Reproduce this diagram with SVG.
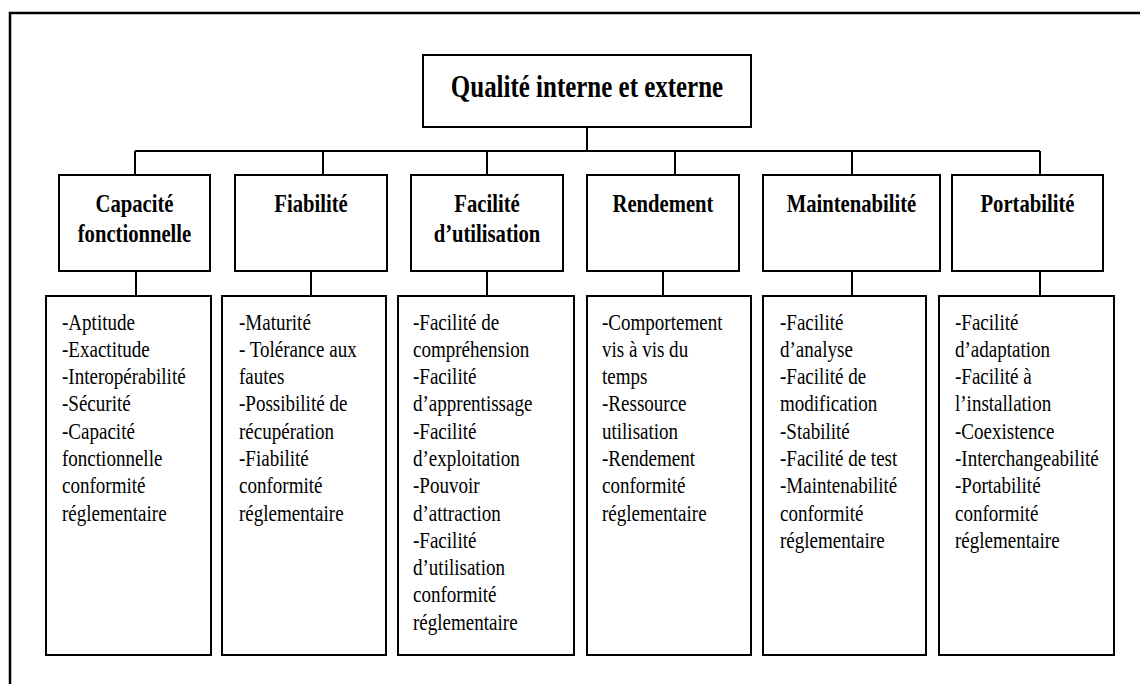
<svg xmlns="http://www.w3.org/2000/svg" width="1140" height="684" viewBox="0 0 1140 684">
<style>
.frame{fill:none;stroke:#000;stroke-width:2.5}
.box{fill:#fff;stroke:#000;stroke-width:2}
.con{fill:none;stroke:#000;stroke-width:2}
.title{font-family:"Liberation Serif","Times New Roman",serif;font-weight:bold;font-size:32px;fill:#000}
.cat{font-family:"Liberation Serif","Times New Roman",serif;font-weight:bold;font-size:25.5px;fill:#000}
.body{font-family:"Liberation Serif","Times New Roman",serif;font-size:23.5px;fill:#000}
</style>
<rect width="1140" height="684" fill="#fff"/>
<rect class="frame" x="10" y="13" width="1150" height="700"/>
<g id="connectors">
<path class="con" d="M587 127V151M135 151H1040M135 151V175M323 151V175M487 151V175M675 151V175M852 151V175M1040 151V175"/>
<path class="con" d="M136 271V296M311 271V296M487 271V296M663 271V296M852 271V296M1040 271V296"/>
</g>
<g id="root">
<rect class="box" x="423" y="55" width="328" height="72"/>
<text class="title" text-anchor="middle" transform="translate(587,97) scale(0.78,1)">Qualité interne et externe</text>
</g>
<g id="cat-capacite">
<rect class="box" x="59" y="175" width="151" height="96"/>
<text class="cat" text-anchor="middle" transform="translate(134.5,212) scale(0.81,1)"><tspan x="0">Capacité</tspan><tspan x="0" dy="30">fonctionnelle</tspan></text>
</g>
<g id="cat-fiabilite">
<rect class="box" x="235" y="175" width="152" height="96"/>
<text class="cat" text-anchor="middle" transform="translate(311,212) scale(0.81,1)">Fiabilité</text>
</g>
<g id="cat-facilite">
<rect class="box" x="411" y="175" width="152" height="96"/>
<text class="cat" text-anchor="middle" transform="translate(487,212) scale(0.81,1)"><tspan x="0">Facilité</tspan><tspan x="0" dy="30">d’utilisation</tspan></text>
</g>
<g id="cat-rendement">
<rect class="box" x="587" y="175" width="152" height="96"/>
<text class="cat" text-anchor="middle" transform="translate(663,212) scale(0.81,1)">Rendement</text>
</g>
<g id="cat-maintenabilite">
<rect class="box" x="763" y="175" width="177" height="96"/>
<text class="cat" text-anchor="middle" transform="translate(851.5,212) scale(0.81,1)">Maintenabilité</text>
</g>
<g id="cat-portabilite">
<rect class="box" x="952" y="175" width="151" height="96"/>
<text class="cat" text-anchor="middle" transform="translate(1027.5,212) scale(0.81,1)">Portabilité</text>
</g>
<g id="det-capacite">
<rect class="box" x="46" y="296" width="165" height="359"/>
<text class="body" transform="translate(62,329.5) scale(0.81,1)"><tspan x="0">-Aptitude</tspan><tspan x="0" dy="27.3">-Exactitude</tspan><tspan x="0" dy="27.3">-Interopérabilité</tspan><tspan x="0" dy="27.3">-Sécurité</tspan><tspan x="0" dy="27.3">-Capacité</tspan><tspan x="0" dy="27.3">fonctionnelle</tspan><tspan x="0" dy="27.3">conformité</tspan><tspan x="0" dy="27.3">réglementaire</tspan></text>
</g>
<g id="det-fiabilite">
<rect class="box" x="222" y="296" width="164" height="359"/>
<text class="body" transform="translate(239,329.5) scale(0.81,1)"><tspan x="0">-Maturité</tspan><tspan x="0" dy="27.3">- Tolérance aux</tspan><tspan x="0" dy="27.3">fautes</tspan><tspan x="0" dy="27.3">-Possibilité de</tspan><tspan x="0" dy="27.3">récupération</tspan><tspan x="0" dy="27.3">-Fiabilité</tspan><tspan x="0" dy="27.3">conformité</tspan><tspan x="0" dy="27.3">réglementaire</tspan></text>
</g>
<g id="det-facilite">
<rect class="box" x="398" y="296" width="176" height="359"/>
<text class="body" transform="translate(413,329.5) scale(0.81,1)"><tspan x="0">-Facilité de</tspan><tspan x="0" dy="27.3">compréhension</tspan><tspan x="0" dy="27.3">-Facilité</tspan><tspan x="0" dy="27.3">d’apprentissage</tspan><tspan x="0" dy="27.3">-Facilité</tspan><tspan x="0" dy="27.3">d’exploitation</tspan><tspan x="0" dy="27.3">-Pouvoir</tspan><tspan x="0" dy="27.3">d’attraction</tspan><tspan x="0" dy="27.3">-Facilité</tspan><tspan x="0" dy="27.3">d’utilisation</tspan><tspan x="0" dy="27.3">conformité</tspan><tspan x="0" dy="27.3">réglementaire</tspan></text>
</g>
<g id="det-rendement">
<rect class="box" x="587" y="296" width="164" height="359"/>
<text class="body" transform="translate(602,329.5) scale(0.81,1)"><tspan x="0">-Comportement</tspan><tspan x="0" dy="27.3">vis à vis du</tspan><tspan x="0" dy="27.3">temps</tspan><tspan x="0" dy="27.3">-Ressource</tspan><tspan x="0" dy="27.3">utilisation</tspan><tspan x="0" dy="27.3">-Rendement</tspan><tspan x="0" dy="27.3">conformité</tspan><tspan x="0" dy="27.3">réglementaire</tspan></text>
</g>
<g id="det-maintenabilite">
<rect class="box" x="763" y="296" width="163" height="359"/>
<text class="body" transform="translate(780,329.5) scale(0.81,1)"><tspan x="0">-Facilité</tspan><tspan x="0" dy="27.3">d’analyse</tspan><tspan x="0" dy="27.3">-Facilité de</tspan><tspan x="0" dy="27.3">modification</tspan><tspan x="0" dy="27.3">-Stabilité</tspan><tspan x="0" dy="27.3">-Facilité de test</tspan><tspan x="0" dy="27.3">-Maintenabilité</tspan><tspan x="0" dy="27.3">conformité</tspan><tspan x="0" dy="27.3">réglementaire</tspan></text>
</g>
<g id="det-portabilite">
<rect class="box" x="939" y="296" width="175" height="359"/>
<text class="body" transform="translate(955,329.5) scale(0.81,1)"><tspan x="0">-Facilité</tspan><tspan x="0" dy="27.3">d’adaptation</tspan><tspan x="0" dy="27.3">-Facilité à</tspan><tspan x="0" dy="27.3">l’installation</tspan><tspan x="0" dy="27.3">-Coexistence</tspan><tspan x="0" dy="27.3">-Interchangeabilité</tspan><tspan x="0" dy="27.3">-Portabilité</tspan><tspan x="0" dy="27.3">conformité</tspan><tspan x="0" dy="27.3">réglementaire</tspan></text>
</g>
</svg>
